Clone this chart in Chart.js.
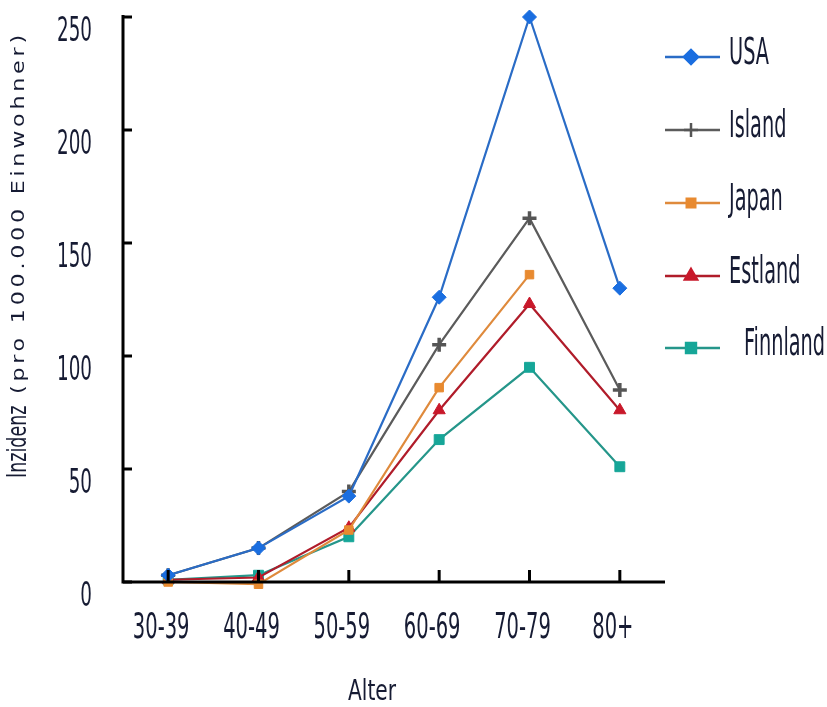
<!DOCTYPE html>
<html>
<head>
<meta charset="utf-8">
<script src="https://cdn.jsdelivr.net/npm/chart.js@4.4.1/dist/chart.umd.min.js"></script>
<style>
  html, body { margin: 0; padding: 0; background: #fff; }
  #wrap { width: 827px; height: 707px; position: relative; }
</style>
</head>
<body>
<div id="wrap"><canvas id="incidenceChart"></canvas></div>
<script>
// --- DATA ---
const ageGroups = ['30-39', '40-49', '50-59', '60-69', '70-79', '80+'];
const usaValues = [3, 15, 38, 126, 250, 130];
const islandValues = [3, 15, 40, 105, 161, 85];
const japanValues = [0, -1, 23, 86, 136, null];
const estlandValues = [1, 2, 24, 76, 123, 76];
const finnlandValues = [1, 3, 20, 63, 95, 51];
const yTicks = [0, 50, 100, 150, 200, 250];
const seriesNames = ['USA', 'Island', 'Japan', 'Estland', 'Finnland'];

const textColor = '#161b33';
const FONT = "'DejaVu Sans Condensed', 'Liberation Sans Narrow', sans-serif";

function series(label, data, color, markColor, style, radius) {
    return {
        label, data,
        borderColor: color,
        backgroundColor: markColor,
        pointBorderColor: markColor,
        borderWidth: 2.2,
        pointStyle: style,
        pointRadius: radius,
        pointBorderWidth: style === 'cross' ? 3.5 : 1,
        pointHoverRadius: radius,
        tension: 0,
        clip: false
    };
}

// narrow, tall text like the original
function drawText(ctx, text, x, y, size, sx, align) {
    ctx.save();
    ctx.translate(x, y);
    ctx.scale(sx, 1);
    ctx.font = size + 'px ' + FONT;
    ctx.fillStyle = textColor;
    ctx.textAlign = align;
    ctx.textBaseline = 'middle';
    ctx.fillText(text, 0, 0);
    ctx.restore();
}

// axes, inward ticks, labels, titles and legend
const extrasPlugin = {
    id: 'extras',
    afterDraw(chart) {
        const ctx = chart.ctx;
        const x = chart.scales.x, y = chart.scales.y;
        const area = chart.chartArea;
        ctx.save();
        ctx.strokeStyle = '#000';
        ctx.lineWidth = 3;
        ctx.beginPath();
        ctx.moveTo(area.left, area.top - 2);
        ctx.lineTo(area.left, area.bottom);
        ctx.lineTo(area.right, area.bottom);
        ctx.stroke();
        yTicks.forEach(v => {
            const py = y.getPixelForValue(v);
            ctx.beginPath();
            ctx.moveTo(area.left, py);
            ctx.lineTo(area.left + 9, py);
            ctx.stroke();
            drawText(ctx, String(v), 92, py + 15, 34, 0.6, 'right');
        });
        ageGroups.forEach((g, i) => {
            const px = x.getPixelForValue(i);
            ctx.beginPath();
            ctx.moveTo(px, area.bottom);
            ctx.lineTo(px, area.bottom - 12);
            ctx.stroke();
            drawText(ctx, g, px - 7, 629, 35, 0.62, 'center');
        });
        ctx.restore();

        drawText(ctx, 'Alter', 372, 693, 28, 0.8, 'center');

        // y title in two sizes
        ctx.save();
        ctx.fillStyle = textColor;
        ctx.translate(19, 478);
        ctx.rotate(-Math.PI / 2);
        ctx.textBaseline = 'middle';
        ctx.textAlign = 'left';
        ctx.save();
        ctx.scale(0.72, 1);
        ctx.font = '27px ' + FONT;
        ctx.fillText('Inzidenz', 0, 0);
        ctx.restore();
        ctx.translate(84, 1);
        ctx.scale(1.45, 1);
        ctx.font = '17px ' + FONT;
        ctx.letterSpacing = '2.6px';
        ctx.fillText('(pro 100.000 Einwohner)', 0, 0);
        ctx.restore();

        // legend
        const legendY = [57, 130, 203, 276, 348];
        chart.data.datasets.forEach((ds, i) => {
            const ly = legendY[i];
            ctx.save();
            ctx.strokeStyle = ds.borderColor;
            ctx.lineWidth = 2.5;
            ctx.beginPath();
            ctx.moveTo(665, ly);
            ctx.lineTo(720, ly);
            ctx.stroke();
            ctx.fillStyle = ds.backgroundColor;
            ctx.strokeStyle = ds.pointBorderColor;
            Chart.helpers.drawPoint(ctx, {
                pointStyle: ds.pointStyle,
                radius: ds.pointRadius,
                borderWidth: ds.pointBorderWidth,
                rotation: 0
            }, 691, ly);
            ctx.restore();
            drawText(ctx, ds.label, i === 4 ? 744 : 729, ly - 3, 37, 0.58, 'left');
        });
    }
};

new Chart(document.getElementById('incidenceChart'), {
    type: 'line',
    data: {
        labels: ageGroups,
        datasets: [
            series(seriesNames[0], usaValues, '#2a6cc6', '#1a6ee0', 'rectRot', 7),
            series(seriesNames[1], islandValues, '#5b5b5b', '#555555', 'cross', 7),
            series(seriesNames[2], japanValues, '#df8a3c', '#e88a30', 'rect', 6),
            series(seriesNames[3], estlandValues, '#b01c2a', '#c8182a', 'triangle', 7),
            series(seriesNames[4], finnlandValues, '#25968a', '#16a698', 'rect', 7)
        ]
    },
    options: {
        responsive: true,
        maintainAspectRatio: false,
        animation: false,
        events: [],
        layout: { padding: { top: 17, right: 162, left: 0, bottom: 0 } },
        plugins: { legend: { display: false }, tooltip: { enabled: false } },
        scales: {
            x: {
                offset: true,
                grid: { display: false, drawTicks: false },
                border: { display: false },
                ticks: { display: false },
                afterFit(scale) { scale.height = 125; }
            },
            y: {
                min: 0, max: 250,
                afterBuildTicks(scale) { scale.ticks = yTicks.map(v => ({ value: v })); },
                grid: { display: false, drawTicks: false },
                border: { display: false },
                ticks: { display: false },
                afterFit(scale) { scale.width = 123; }
            }
        }
    },
    plugins: [extrasPlugin]
});
</script>
</body>
</html>
